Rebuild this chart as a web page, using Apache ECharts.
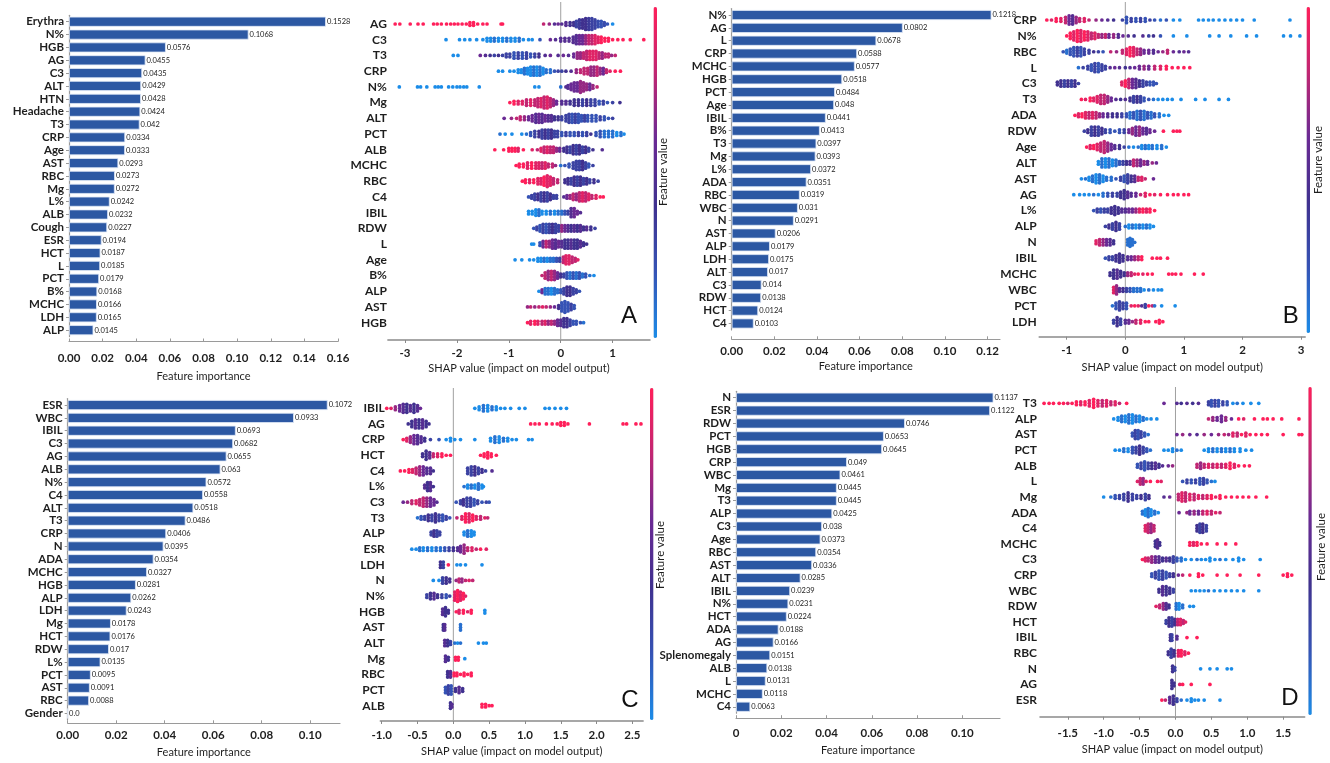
<!DOCTYPE html>
<html><head><meta charset="utf-8">
<script src="https://cdn.jsdelivr.net/npm/echarts@6/dist/echarts.min.js"></script>
<style>html,body{margin:0;padding:0;background:#fff}#c{width:1330px;height:763px}</style>
</head><body><div id="c"></div>
<script>
// ---------------- DATA ----------------
const barA_cats = ['Erythra','N%','HGB','AG','C3','ALT','HTN','Headache','T3','CRP','Age','AST','RBC','Mg','L%','ALB','Cough','ESR','HCT','L','PCT','B%','MCHC','LDH','ALP'];
const barA_vals = [0.1528,0.1068,0.0576,0.0455,0.0435,0.0429,0.0428,0.0424,0.042,0.0334,0.0333,0.0293,0.0273,0.0272,0.0242,0.0232,0.0227,0.0194,0.0187,0.0185,0.0179,0.0168,0.0166,0.0165,0.0145];
const barB_cats = ['N%','AG','L','CRP','MCHC','HGB','PCT','Age','IBIL','B%','T3','Mg','L%','ADA','RBC','WBC','N','AST','ALP','LDH','ALT','C3','RDW','HCT','C4'];
const barB_vals = [0.1218,0.0802,0.0678,0.0588,0.0577,0.0518,0.0484,0.048,0.0441,0.0413,0.0397,0.0393,0.0372,0.0351,0.0319,0.031,0.0291,0.0206,0.0179,0.0175,0.017,0.014,0.0138,0.0124,0.0103];
const barC_cats = ['ESR','WBC','IBIL','C3','AG','ALB','N%','C4','ALT','T3','CRP','N','ADA','MCHC','HGB','ALP','LDH','Mg','HCT','RDW','L%','PCT','AST','RBC','Gender'];
const barC_vals = [0.1072,0.0933,0.0693,0.0682,0.0655,0.063,0.0572,0.0558,0.0518,0.0486,0.0406,0.0395,0.0354,0.0327,0.0281,0.0262,0.0243,0.0178,0.0176,0.017,0.0135,0.0095,0.0091,0.0088,0];
const barD_cats = ['N','ESR','RDW','PCT','HGB','CRP','WBC','Mg','T3','ALP','C3','Age','RBC','AST','ALT','IBIL','N%','HCT','ADA','AG','Splenomegaly','ALB','L','MCHC','C4'];
const barD_vals = [0.1137,0.1122,0.0746,0.0653,0.0645,0.049,0.0461,0.0445,0.0445,0.0425,0.038,0.0373,0.0354,0.0336,0.0285,0.0239,0.0231,0.0224,0.0188,0.0166,0.0151,0.0138,0.0131,0.0118,0.0063];

const ticksBarA = [0,0.02,0.04,0.06,0.08,0.10,0.12,0.14,0.16];
const ticksBarB = [0,0.02,0.04,0.06,0.08,0.10,0.12];
const ticksBarC = [0,0.02,0.04,0.06,0.08,0.10];
const ticksBarD = [0,0.02,0.04,0.06,0.08,0.10];
const ticksShapA = [-3,-2,-1,0,1];
const ticksShapB = [-1,0,1,2,3];
const ticksShapC = [-1,-0.5,0,0.5,1,1.5,2,2.5];
const ticksShapD = [-1.5,-1,-0.5,0,0.5,1,1.5];

// SHAP rows: points as [shap value, number of samples stacked at that value, feature value 0(low)..1(high)]
const shapA_rows = ['AG','C3','T3','CRP','N%','Mg','ALT','PCT','ALB','MCHC','RBC','C4','IBIL','RDW','L','Age','B%','ALP','AST','HGB'];
const shapA_pts = [
[[-3.19,1,1],[-3.1,1,1],[-2.9,1,1],[-2.75,1,1],[-2.65,1,1],[-2.45,1,1],[-2.38,1,1],[-2.3,1,1],[-2.2,1,1],[-2.12,1,1],[-2.05,1,1],[-1.98,1,1],[-1.9,1,1],[-1.82,1,1],[-1.75,2,1],[-1.68,2,1],[-1.6,1,1],[-1.5,1,1],[-1.42,1,1],[-1.15,1,1],[-1.12,1,1],[-0.33,1,0.8],[-0.22,1,0.7],[-0.12,1,0.5],[-0.05,1,0.6],[0.02,1,0.5],[0.1,2,0.5],[0.18,2,0.4],[0.25,2,0.4],[0.3,3,0.3],[0.36,4,0.35],[0.42,4,0.4],[0.48,5,0.4],[0.54,5,0.35],[0.6,5,0.3],[0.66,4,0.3],[0.72,3,0.25],[0.78,3,0.2],[0.84,2,0.25],[0.9,1,0.2],[1.0,1,0]],
[[-2.21,1,0],[-1.95,1,0],[-1.85,1,0],[-1.75,1,0],[-1.62,1,0],[-1.5,1,0],[-1.42,2,0],[-1.35,2,0],[-1.28,2,0.1],[-1.2,2,0],[-1.12,2,0],[-1.04,2,0.1],[-0.96,2,0],[-0.88,2,0],[-0.8,2,0.1],[-0.72,1,0],[-0.62,1,0],[-0.55,1,0],[-0.4,1,0.2],[-0.2,1,0.6],[-0.1,1,0.5],[0,2,0.5],[0.08,2,0.5],[0.16,2,0.5],[0.24,3,0.5],[0.3,4,0.5],[0.36,4,0.6],[0.42,4,0.6],[0.48,4,0.7],[0.54,4,0.8],[0.6,4,0.8],[0.66,4,0.9],[0.72,3,0.9],[0.78,3,1],[0.85,2,1],[0.92,2,1],[1.0,1,1],[1.1,1,1],[1.2,1,1],[1.34,1,1],[1.6,1,1]],
[[-2.07,1,0],[-1.98,1,0],[-1.55,1,0.6],[-1.45,1,0.5],[-1.36,1,0.4],[-1.28,1,0.3],[-1.2,1,0.4],[-1.12,1,0.3],[-1.05,2,0.3],[-0.98,2,0.3],[-0.9,3,0.2],[-0.82,3,0.3],[-0.74,3,0.2],[-0.66,3,0.3],[-0.58,2,0.2],[-0.5,2,0.3],[-0.42,2,0.4],[-0.3,1,0.5],[-0.2,1,0.6],[-0.05,1,0.5],[0.05,1,0.6],[0.15,1,0.5],[0.25,2,0.6],[0.32,3,0.7],[0.38,3,0.7],[0.44,3,0.8],[0.5,4,0.8],[0.56,4,0.9],[0.62,4,0.9],[0.68,4,0.9],[0.74,3,0.8],[0.8,3,0.7],[0.86,2,0.8],[0.92,2,0.8],[0.98,1,0.7],[1.05,1,0.8]],
[[-1.2,1,0],[-1.12,1,0],[-0.98,1,0],[-0.9,1,0],[-0.82,2,0],[-0.76,2,0],[-0.7,3,0.1],[-0.64,3,0],[-0.58,4,0],[-0.52,4,0.1],[-0.46,4,0],[-0.4,4,0.1],[-0.34,3,0],[-0.28,2,0.1],[-0.2,2,0.1],[-0.12,1,0.2],[-0.05,1,0.3],[0.02,1,0.3],[0.1,1,0.4],[0.2,1,0.5],[0.3,2,0.7],[0.38,2,0.8],[0.45,3,0.8],[0.52,3,0.8],[0.58,4,0.7],[0.64,4,0.7],[0.7,4,0.8],[0.76,3,0.7],[0.82,3,0.6],[0.88,2,0.8],[0.95,1,0.9],[1.05,1,1],[1.15,1,1]],
[[-3.11,1,0],[-2.76,1,0],[-2.7,1,0],[-2.58,1,0],[-2.42,1,0],[-2.36,1,0],[-2.3,1,0],[-2.16,1,0],[-2.08,1,0],[-2.0,1,0],[-1.94,1,0],[-1.87,1,0],[-1.81,1,0],[-1.57,1,0],[-0.5,1,0],[-0.42,1,0],[0,1,0.1],[0.1,1,0.5],[0.14,2,0.5],[0.2,3,0.6],[0.26,4,0.6],[0.32,4,0.6],[0.38,5,0.7],[0.44,4,0.7],[0.5,3,0.7],[0.56,3,0.6],[0.62,2,0.7],[0.7,1,0.8]],
[[-0.98,1,1],[-0.9,2,1],[-0.82,2,0.9],[-0.74,2,0.9],[-0.66,3,0.8],[-0.58,3,0.9],[-0.5,3,0.8],[-0.44,4,0.8],[-0.38,4,0.9],[-0.32,5,0.8],[-0.26,5,0.9],[-0.2,4,0.8],[-0.14,3,0.7],[-0.08,2,0.6],[0.02,2,0.5],[0.1,2,0.5],[0.18,2,0.4],[0.26,3,0.4],[0.34,3,0.4],[0.42,3,0.3],[0.5,3,0.4],[0.58,3,0.3],[0.66,3,0.3],[0.74,2,0.2],[0.82,2,0.3],[0.9,1,0.2],[1.0,1,0.3],[1.14,1,0.4]],
[[-1.09,1,0.6],[-0.95,1,0.7],[-0.85,1,0.8],[-0.78,2,0.8],[-0.7,2,0.7],[-0.62,2,0.6],[-0.55,3,0.6],[-0.48,4,0.5],[-0.42,4,0.6],[-0.36,4,0.5],[-0.3,3,0.6],[-0.24,3,0.5],[-0.18,3,0.5],[-0.12,2,0.4],[-0.05,2,0.4],[0.02,2,0.3],[0.1,3,0.3],[0.16,4,0.3],[0.22,4,0.2],[0.28,4,0.3],[0.34,4,0.2],[0.4,3,0.2],[0.46,3,0.3],[0.52,3,0.2],[0.6,3,0.2],[0.68,3,0.2],[0.76,2,0.3],[0.84,2,0.2],[0.92,1,0.2],[1.0,1,0.3]],
[[-1.17,1,0.1],[-1.07,1,0],[-0.94,1,0],[-0.75,1,0],[-0.66,1,0.1],[-0.58,2,0.2],[-0.5,3,0.3],[-0.42,3,0.4],[-0.36,4,0.3],[-0.3,4,0.4],[-0.24,4,0.3],[-0.18,4,0.4],[-0.12,3,0.3],[-0.06,3,0.3],[0.02,2,0.2],[0.1,2,0.3],[0.18,2,0.2],[0.26,2,0.2],[0.34,2,0.3],[0.42,2,0.2],[0.5,2,0.3],[0.58,1,0.4],[0.68,2,0.2],[0.76,3,0.2],[0.84,3,0.1],[0.92,3,0.1],[1.0,3,0.1],[1.08,2,0],[1.16,2,0.1],[1.22,1,0]],
[[-1.27,1,1],[-1.1,1,1],[-1.0,2,1],[-0.94,2,1],[-0.88,2,1],[-0.82,2,0.9],[-0.72,1,1],[-0.55,1,0.9],[-0.45,1,0.8],[-0.38,2,0.9],[-0.32,3,0.8],[-0.26,3,0.9],[-0.2,3,0.8],[-0.14,3,0.8],[-0.08,2,0.7],[-0.02,2,0.6],[0.06,2,0.4],[0.12,3,0.4],[0.18,3,0.3],[0.24,4,0.4],[0.3,4,0.3],[0.36,4,0.4],[0.42,3,0.3],[0.48,3,0.4],[0.54,2,0.3],[0.62,1,0.4],[0.8,1,0.5]],
[[-0.86,1,1],[-0.8,2,1],[-0.72,2,1],[-0.64,3,0.9],[-0.56,3,1],[-0.48,3,0.9],[-0.42,3,0.9],[-0.36,3,0.8],[-0.3,3,0.9],[-0.24,2,0.8],[-0.16,2,0.8],[-0.1,1,0.7],[0.0,1,0.1],[0.08,1,0.2],[0.16,2,0.2],[0.24,3,0.3],[0.3,4,0.3],[0.36,4,0.3],[0.42,4,0.4],[0.48,3,0.3],[0.54,2,0.2],[0.62,1,0.3]],
[[-0.74,1,1],[-0.68,2,1],[-0.6,2,0.9],[-0.52,2,1],[-0.44,3,0.9],[-0.38,3,0.9],[-0.32,4,1],[-0.26,5,0.9],[-0.2,4,0.9],[-0.14,3,0.8],[-0.06,2,0.8],[0.08,2,0.4],[0.14,3,0.4],[0.2,3,0.3],[0.26,4,0.4],[0.32,4,0.3],[0.38,4,0.4],[0.44,3,0.3],[0.5,3,0.4],[0.56,2,0.3],[0.64,2,0.4],[0.72,1,0.3]],
[[-0.62,1,0.2],[-0.56,2,0.3],[-0.5,3,0.3],[-0.44,3,0.4],[-0.38,4,0.3],[-0.32,4,0.4],[-0.26,4,0.3],[-0.2,3,0.4],[-0.14,2,0.3],[-0.08,2,0.3],[0.06,1,0.5],[0.12,2,0.6],[0.18,2,0.7],[0.24,3,0.8],[0.3,3,0.7],[0.36,4,0.8],[0.42,4,0.9],[0.48,4,0.8],[0.54,3,0.9],[0.6,2,0.8],[0.68,2,0.9],[0.76,1,1],[0.82,1,1]],
[[-0.62,2,0],[-0.55,2,0],[-0.48,3,0],[-0.42,3,0.1],[-0.36,2,0],[-0.28,2,0],[-0.2,2,0.1],[-0.12,2,0],[-0.05,2,0.1],[0.02,2,0.1],[0.08,2,0.2],[0.14,2,0.3],[0.2,4,0.5],[0.26,4,0.6],[0.32,2,0.6],[0.38,1,0.5]],
[[-0.52,1,0.2],[-0.46,2,0.3],[-0.4,3,0.2],[-0.34,4,0.3],[-0.28,4,0.2],[-0.22,4,0.3],[-0.16,4,0.4],[-0.1,4,0.3],[-0.04,3,0.3],[0.02,3,0.7],[0.08,3,0.6],[0.14,3,0.5],[0.2,3,0.4],[0.26,3,0.5],[0.32,3,0.4],[0.38,3,0.5],[0.44,2,0.4],[0.5,2,0.5],[0.58,2,0.4],[0.66,1,0.3]],
[[-0.56,1,0],[-0.52,1,0],[-0.4,2,0.2],[-0.34,3,0.6],[-0.28,3,0.8],[-0.22,3,0.7],[-0.16,4,0.6],[-0.1,4,0.5],[-0.04,3,0.6],[0.02,3,0.5],[0.08,4,0.4],[0.14,4,0.4],[0.2,4,0.5],[0.26,4,0.4],[0.32,4,0.4],[0.38,3,0.5],[0.44,2,0.4],[0.5,1,0.4]],
[[-0.88,1,0],[-0.75,1,0],[-0.6,1,0],[-0.52,1,0],[-0.44,2,0],[-0.38,2,0],[-0.32,2,0.1],[-0.26,2,0],[-0.2,2,0.1],[-0.14,2,0.1],[-0.08,2,0.2],[-0.02,2,0.3],[0.05,3,0.8],[0.1,4,0.9],[0.16,4,0.9],[0.22,3,0.8],[0.28,2,0.8],[0.33,1,0.9]],
[[-0.36,1,0.8],[-0.3,3,0.8],[-0.24,4,0.7],[-0.18,4,0.8],[-0.12,4,0.7],[-0.06,3,0.6],[0.0,2,0.4],[0.06,2,0.3],[0.12,3,0.2],[0.18,3,0.1],[0.24,3,0.2],[0.3,3,0.1],[0.36,3,0.2],[0.42,2,0.1],[0.48,2,0.2],[0.56,1,0.1],[0.64,1,0]],
[[-0.42,1,0],[-0.36,2,0.6],[-0.3,3,0.1],[-0.24,3,0.1],[-0.18,3,0],[-0.12,3,0.1],[-0.06,2,0.1],[0.0,2,0.2],[0.06,3,0.3],[0.12,4,0.4],[0.18,4,0.4],[0.24,3,0.3],[0.3,2,0.3],[0.36,1,0.2]],
[[-0.64,1,0.7],[-0.58,1,0.8],[-0.5,1,0.7],[-0.42,1,0.8],[-0.35,1,0.9],[-0.28,1,0.8],[-0.2,1,0.7],[-0.12,1,0.6],[-0.04,2,0.4],[0.02,4,0.2],[0.08,5,0.2],[0.14,4,0.2],[0.2,3,0.3],[0.26,2,0.2]],
[[-0.64,1,1],[-0.58,2,0.9],[-0.5,2,1],[-0.44,2,0.9],[-0.36,2,0.8],[-0.3,2,0.9],[-0.24,2,0.7],[-0.18,2,0.8],[-0.12,2,0.7],[-0.06,3,0.6],[0.0,3,0.5],[0.06,4,0.4],[0.12,4,0.4],[0.18,3,0.3],[0.24,2,0.2],[0.3,2,0.2],[0.38,1,0.2],[0.44,1,0.1]]
];

const shapB_rows = ['CRP','N%','RBC','L','C3','T3','ADA','RDW','Age','ALT','AST','AG','L%','ALP','N','IBIL','MCHC','WBC','PCT','LDH'];
const shapB_pts = [
[[-1.34,1,1],[-1.26,1,0.9],[-1.18,2,1],[-1.1,2,0.9],[-1.02,3,0.8],[-0.96,4,0.6],[-0.9,4,0.5],[-0.84,3,0.7],[-0.78,2,0.8],[-0.7,2,0.9],[-0.62,1,0.8],[-0.5,1,0.7],[-0.4,1,0.6],[-0.3,1,0.5],[-0.2,1,0.4],[-0.05,1,0.3],[0.02,3,0.2],[0.1,2,0.3],[0.18,2,0.2],[0.26,2,0.3],[0.34,2,0.2],[0.42,1,0.3],[0.5,1,0.2],[0.6,1,0.1],[0.7,1,0.2],[0.82,1,0],[0.93,1,0],[1.25,1,0],[1.33,1,0],[1.42,1,0],[1.5,1,0],[1.6,1,0],[1.7,1,0],[1.8,1,0],[1.9,1,0],[2.0,1,0],[2.2,1,0],[2.81,1,0]],
[[-1.0,1,1],[-0.94,3,1],[-0.88,4,0.9],[-0.82,5,1],[-0.76,5,0.9],[-0.7,4,1],[-0.64,4,0.9],[-0.58,3,0.8],[-0.52,3,0.9],[-0.46,2,0.8],[-0.4,2,0.7],[-0.34,2,0.8],[-0.28,2,0.6],[-0.2,2,0.7],[-0.12,2,0.5],[-0.04,1,0.6],[0.05,1,0.5],[0.15,1,0.4],[0.3,1,0.5],[0.4,1,0.3],[0.48,1,0.4],[0.6,1,0.2],[0.82,1,0],[1.05,1,0],[1.44,1,0],[1.6,1,0],[1.8,1,0],[2.07,1,0],[2.24,1,0],[2.7,1,0],[2.82,1,0],[2.98,1,0]],
[[-1.06,1,0.2],[-1.0,2,0.1],[-0.94,3,0.2],[-0.88,4,0.2],[-0.82,4,0.3],[-0.76,4,0.2],[-0.7,3,0.3],[-0.62,2,0.3],[-0.54,1,0.4],[-0.46,1,0.3],[-0.38,1,0.2],[-0.25,1,0.8],[-0.15,1,0.7],[-0.05,2,0.8],[0.02,3,0.9],[0.08,4,1],[0.14,4,0.9],[0.2,3,0.8],[0.26,3,0.7],[0.32,2,0.6],[0.4,2,0.6],[0.48,2,0.5],[0.56,1,0.6],[0.64,1,0.7],[0.72,2,0.8],[0.82,1,0.6],[0.92,1,0.5],[1.0,1,0.6],[1.08,1,0.5]],
[[-0.8,1,0.1],[-0.72,1,0.3],[-0.64,2,0.3],[-0.58,3,0.2],[-0.52,4,0.3],[-0.46,4,0.2],[-0.4,3,0.3],[-0.34,2,0.3],[-0.26,1,0.5],[-0.18,1,0.6],[-0.1,1,0.5],[0.0,1,0.4],[0.08,1,0.5],[0.16,1,0.6],[0.24,2,0.6],[0.32,2,0.7],[0.4,2,0.6],[0.5,2,0.8],[0.6,2,0.9],[0.7,2,1],[0.8,1,1],[0.9,1,1],[1.0,1,1],[1.1,1,1]],
[[-1.16,2,0.4],[-1.1,3,0.4],[-1.04,3,0.3],[-0.98,3,0.4],[-0.92,3,0.3],[-0.86,3,0.4],[-0.8,1,0.3],[-0.06,2,0.9],[0.0,3,1],[0.06,4,0.8],[0.12,4,0.6],[0.18,4,0.5],[0.24,3,0.4],[0.3,3,0.3],[0.36,2,0.3],[0.42,2,0.2],[0.48,2,0.2],[0.53,1,0.2]],
[[-0.75,1,1],[-0.68,1,0.9],[-0.6,2,1],[-0.54,2,0.9],[-0.48,3,0.9],[-0.42,4,0.8],[-0.36,4,0.8],[-0.3,3,0.7],[-0.24,2,0.6],[-0.16,1,0.5],[-0.08,1,0.4],[0.0,1,0.5],[0.08,2,0.4],[0.14,3,0.3],[0.2,3,0.4],[0.26,3,0.3],[0.32,2,0.2],[0.4,1,0.2],[0.48,1,0.1],[0.56,1,0],[0.64,1,0],[0.72,1,0],[0.8,1,0],[0.95,1,0],[1.2,1,0],[1.36,1,0],[1.6,1,0],[1.76,1,0]],
[[-0.86,1,1],[-0.8,2,0.9],[-0.74,2,1],[-0.68,3,0.9],[-0.62,3,0.8],[-0.56,3,0.9],[-0.5,3,0.8],[-0.44,2,0.7],[-0.38,2,0.6],[-0.3,2,0.5],[-0.22,2,0.4],[-0.14,2,0.4],[-0.06,2,0.3],[0.02,2,0.2],[0.08,3,0.1],[0.14,3,0.2],[0.2,4,0.1],[0.26,4,0.2],[0.32,4,0.1],[0.38,3,0.2],[0.44,3,0.1],[0.5,2,0.2],[0.58,2,0.1],[0.66,1,0],[0.74,1,0]],
[[-0.7,1,0.3],[-0.64,2,0.4],[-0.58,4,0.3],[-0.52,4,0.4],[-0.46,4,0.3],[-0.4,3,0.4],[-0.34,2,0.3],[-0.26,2,0.2],[-0.18,1,0.2],[-0.1,2,0.2],[-0.02,2,0.3],[0.06,2,0.6],[0.12,3,0.7],[0.18,4,0.6],[0.24,4,0.7],[0.3,3,0.6],[0.36,3,0.5],[0.42,2,0.6],[0.5,1,0.6],[0.65,1,1],[0.82,1,1],[0.88,1,1],[0.93,1,1]],
[[-0.66,1,1],[-0.6,2,0.9],[-0.54,2,1],[-0.48,3,0.9],[-0.42,4,0.8],[-0.36,5,0.8],[-0.3,4,0.7],[-0.24,3,0.6],[-0.18,2,0.5],[-0.1,2,0.4],[-0.02,1,0.3],[0.06,1,0.1],[0.14,1,0],[0.22,1,0.1],[0.28,2,0],[0.34,2,0.1],[0.4,2,0],[0.46,2,0.1],[0.54,2,0],[0.62,2,0.1],[0.7,1,0]],
[[-0.46,2,0],[-0.4,4,0.1],[-0.34,4,0],[-0.28,4,0.1],[-0.22,3,0],[-0.16,3,0.1],[-0.1,2,0.2],[-0.04,2,0.3],[0.02,2,0.4],[0.08,2,0.5],[0.14,3,0.8],[0.2,3,0.7],[0.26,3,0.6],[0.32,2,0.7],[0.38,2,0.6],[0.46,1,0.7],[0.53,1,0.6]],
[[-0.75,1,0],[-0.68,1,0.1],[-0.62,2,0],[-0.56,3,0.1],[-0.5,4,0],[-0.44,4,0.1],[-0.38,3,0],[-0.32,2,0.1],[-0.24,2,0.1],[-0.16,1,0.2],[-0.08,2,0.3],[-0.02,3,0.2],[0.04,4,0.3],[0.1,3,0.4],[0.16,3,0.5],[0.22,2,0.8],[0.28,2,0.9],[0.34,1,0.8],[0.48,1,0.6]],
[[-0.88,1,0],[-0.78,1,0],[-0.7,1,0],[-0.62,1,0],[-0.54,1,0.1],[-0.46,1,0],[-0.38,2,0.1],[-0.3,2,0.2],[-0.22,2,0.3],[-0.14,2,0.3],[-0.08,3,0.4],[-0.02,4,0.4],[0.04,3,0.5],[0.1,2,0.5],[0.18,2,0.6],[0.26,1,0.8],[0.34,2,0.9],[0.42,1,1],[0.5,1,0.9],[0.6,1,1],[0.72,1,1],[0.82,1,1],[0.9,1,1],[1.0,1,1],[1.08,1,1]],
[[-0.54,1,0.2],[-0.48,2,0.3],[-0.42,2,0.2],[-0.36,2,0.3],[-0.3,2,0.3],[-0.24,3,0.4],[-0.18,4,0.4],[-0.12,3,0.4],[-0.06,2,0.5],[0.0,2,0.5],[0.06,2,0.6],[0.12,2,0.6],[0.18,2,0.7],[0.24,2,0.9],[0.3,2,1],[0.36,2,0.9],[0.42,2,1],[0.5,1,1]],
[[-0.34,1,0.3],[-0.28,2,0.4],[-0.22,3,0.3],[-0.16,4,0.4],[-0.1,3,0.3],[0.0,1,0.1],[0.06,2,0],[0.12,2,0.1],[0.18,2,0],[0.24,2,0.1],[0.3,2,0],[0.36,2,0.1],[0.42,2,0],[0.48,1,0]],
[[-0.5,2,0.9],[-0.44,3,0.8],[-0.38,3,0.7],[-0.32,3,0.6],[-0.26,3,0.5],[-0.2,2,0.4],[0.04,3,0.1],[0.08,4,0.1],[0.12,3,0.1],[0.16,1,0.1]],
[[-0.34,1,0.2],[-0.28,2,0.3],[-0.22,2,0.3],[-0.16,3,0.4],[-0.1,4,0.4],[-0.04,3,0.4],[0.04,2,0.5],[0.1,2,0.6],[0.16,2,0.7],[0.22,2,0.8],[0.28,2,1],[0.46,1,1],[0.54,1,1],[0.6,1,1],[0.72,1,1]],
[[-0.26,2,0.4],[-0.2,4,0.4],[-0.14,4,0.5],[-0.08,3,0.4],[-0.02,2,0.4],[0.04,2,0.7],[0.1,2,0.8],[0.16,1,0.9],[0.22,1,1],[0.3,1,0.9],[0.38,1,1],[0.46,1,1],[0.74,1,1],[0.8,1,1],[0.86,1,1],[0.95,1,1],[1.18,1,1],[1.33,1,1]],
[[-0.2,3,0.9],[-0.15,4,0.7],[-0.1,2,0.5],[-0.04,2,0.4],[0.02,2,0.3],[0.08,2,0.2],[0.14,2,0.1],[0.2,2,0.1],[0.26,2,0.1],[0.32,1,0],[0.4,1,0.1],[0.48,1,0],[0.56,1,0],[0.62,1,0]],
[[-0.22,1,0.1],[-0.16,3,0.2],[-0.1,4,0.3],[-0.04,3,0.3],[0.02,3,0.2],[0.1,1,0.9],[0.16,1,1],[0.22,1,0.9],[0.28,1,0.5],[0.34,2,0.3],[0.4,1,1],[0.46,1,0.8],[0.5,1,0.1],[0.62,1,0],[0.85,1,0]],
[[-0.2,2,0.3],[-0.14,4,0.4],[-0.08,3,0.3],[0.0,2,0.5],[0.06,2,0.6],[0.12,1,0.7],[0.18,2,0.8],[0.26,2,0.9],[0.34,1,1],[0.4,1,1],[0.52,1,1],[0.58,2,1],[0.64,1,1]]
];

const shapC_rows = ['IBIL','AG','CRP','HCT','C4','L%','C3','T3','ALP','ESR','LDH','N','N%','HGB','AST','ALT','Mg','RBC','PCT','ALB'];
const shapC_pts = [
[[-0.93,1,1],[-0.87,1,0.9],[-0.81,2,0.7],[-0.75,3,0.6],[-0.7,4,0.5],[-0.65,4,0.4],[-0.6,3,0.5],[-0.55,4,0.4],[-0.5,3,0.5],[-0.46,1,0.6],[0.3,1,0],[0.36,2,0],[0.42,3,0.1],[0.48,3,0],[0.54,2,0.1],[0.6,2,0],[0.66,1,0],[0.72,1,0],[0.8,1,0],[0.92,1,0],[1.0,1,0],[1.28,1,0],[1.34,1,0],[1.42,1,0],[1.5,1,0],[1.58,1,0]],
[[-0.63,1,0.4],[-0.58,3,0.4],[-0.53,4,0.5],[-0.48,4,0.4],[-0.43,4,0.5],[-0.38,3,0.4],[-0.34,1,0.4],[1.08,1,1],[1.14,1,1],[1.2,1,1],[1.3,1,1],[1.38,1,1],[1.45,1,1],[1.5,2,1],[1.55,2,1],[1.6,1,1],[1.9,1,1],[2.37,1,1],[2.42,1,1],[2.55,1,1],[2.62,1,1]],
[[-0.7,1,1],[-0.65,2,0.9],[-0.6,3,0.7],[-0.55,4,0.6],[-0.5,4,0.5],[-0.45,3,0.5],[-0.4,2,0.4],[-0.32,1,0.3],[-0.2,1,0.2],[-0.1,1,0],[-0.04,2,0],[0.02,1,0],[0.1,1,0],[0.3,1,0],[0.52,2,0],[0.58,3,0.1],[0.64,3,0],[0.7,2,0.1],[0.76,2,0],[0.82,1,0],[0.88,1,0],[1.05,1,0],[1.1,1,0]],
[[-0.43,2,0.4],[-0.38,4,0.4],[-0.33,3,0.5],[-0.28,2,0.8],[-0.22,2,0.9],[-0.16,2,1],[-0.1,1,1],[-0.04,1,1],[0.38,1,1],[0.43,2,1],[0.48,3,1],[0.53,2,1],[0.6,1,1]],
[[-0.74,1,1],[-0.68,1,1],[-0.62,2,1],[-0.57,2,0.9],[-0.52,3,0.8],[-0.47,4,0.7],[-0.42,4,0.6],[-0.37,3,0.5],[-0.32,3,0.5],[-0.28,1,0.4],[0.2,3,0.3],[0.25,4,0.3],[0.3,4,0.4],[0.35,3,0.3],[0.4,2,0.4],[0.45,1,0.3],[0.54,1,0.5]],
[[-0.4,2,0.5],[-0.36,4,0.4],[-0.32,4,0.5],[-0.28,1,0.4],[0.15,1,0.1],[0.2,2,0],[0.25,2,0.1],[0.3,2,0],[0.35,3,0.1],[0.4,2,0],[0.42,1,0]],
[[-0.7,1,0.6],[-0.64,1,0.7],[-0.58,2,0.8],[-0.52,2,0.9],[-0.47,3,0.8],[-0.42,4,0.8],[-0.37,4,0.7],[-0.32,4,0.6],[-0.27,3,0.6],[-0.23,1,0.5],[0.04,1,0.2],[0.1,2,0.3],[0.14,3,0.4],[0.19,4,0.3],[0.24,4,0.3],[0.29,3,0.2],[0.34,2,0.3],[0.4,1,0.2],[0.46,1,0.3],[0.5,1,0.2]],
[[-0.5,1,0.1],[-0.45,2,0.2],[-0.4,2,0.3],[-0.35,3,0.4],[-0.3,3,0.3],[-0.25,4,0.4],[-0.2,3,0.3],[-0.15,3,0.2],[-0.1,2,0.3],[-0.05,1,0.2],[0.05,1,0.8],[0.12,2,0.9],[0.17,4,1],[0.22,4,0.9],[0.27,3,1],[0.32,2,0.9],[0.38,2,0.8],[0.44,1,0.9],[0.48,1,0.8]],
[[-0.31,2,0.3],[-0.27,3,0.4],[-0.23,3,0.3],[-0.19,2,0.3],[0.15,2,0],[0.2,3,0.1],[0.25,3,0],[0.29,2,0]],
[[-0.58,1,0],[-0.52,1,0],[-0.47,2,0.1],[-0.42,2,0],[-0.36,2,0.1],[-0.3,2,0],[-0.24,2,0.1],[-0.18,2,0.1],[-0.12,2,0.2],[-0.06,2,0.3],[0.0,2,0.4],[0.06,2,0.5],[0.1,3,0.6],[0.15,4,0.7],[0.2,2,0.8],[0.26,2,0.9],[0.32,1,0.8],[0.38,1,1],[0.46,1,0.9]],
[[-0.18,3,0.4],[-0.14,3,0.3],[-0.07,1,1],[0.05,1,0],[0.1,1,0],[0.17,1,0],[0.4,1,0]],
[[-0.28,1,0],[-0.2,1,0],[-0.15,3,0.3],[-0.1,3,0.4],[-0.05,2,0.4],[0.04,1,0.7],[0.08,2,0.8],[0.12,2,0.7],[0.17,1,0.8],[0.22,1,0.9],[0.27,1,0.8]],
[[-0.37,2,0.3],[-0.32,3,0.4],[-0.27,3,0.5],[-0.22,2,0.4],[-0.16,2,0.3],[-0.1,2,0.2],[-0.05,1,0.3],[0.02,4,0.9],[0.06,5,1],[0.1,4,0.9],[0.14,3,1],[0.17,1,0.9]],
[[-0.15,3,0.5],[-0.11,4,0.4],[-0.07,2,0.4],[0.04,1,1],[0.08,2,0.9],[0.14,2,1],[0.2,1,0.9],[0.25,2,1],[0.44,2,0]],
[[-0.14,3,0.4],[-0.12,3,0.5],[0.1,3,0.1]],
[[-0.12,3,0.5],[-0.08,3,0.4],[-0.04,2,0.3],[0.02,1,0.1],[0.06,1,0],[0.1,1,0.1],[0.35,1,0],[0.42,1,0],[0.46,1,0]],
[[-0.11,3,0.5],[-0.07,2,0.4],[0.03,2,1],[0.07,2,1],[0.16,1,0]],
[[-0.08,3,0.4],[-0.04,3,0.5],[0.01,2,1],[0.05,2,1],[0.1,1,1],[0.15,2,1],[0.2,1,1],[0.25,2,1]],
[[-0.11,3,0.2],[-0.07,4,0.3],[-0.03,4,0.2],[0.03,2,0.4],[0.08,3,0.5],[0.13,2,0.4]],
[[-0.04,3,0.4],[-0.02,2,0.5],[0.4,2,1],[0.45,2,1],[0.5,1,1],[0.54,1,1]]
];

const shapD_rows = ['T3','ALP','AST','PCT','ALB','L','Mg','ADA','C4','MCHC','C3','CRP','WBC','RDW','HCT','IBIL','RBC','N','AG','ESR'];
const shapD_pts = [
[[-1.83,1,1],[-1.76,1,1],[-1.7,1,1],[-1.62,1,1],[-1.56,1,1],[-1.5,1,0.9],[-1.44,1,1],[-1.38,2,1],[-1.32,2,0.9],[-1.26,2,1],[-1.2,3,0.9],[-1.14,4,1],[-1.08,3,0.9],[-1.02,3,0.8],[-0.96,3,0.9],[-0.9,2,0.8],[-0.84,2,0.9],[-0.78,1,0.8],[-0.68,1,1],[-0.16,1,0.6],[0.02,1,0.5],[0.08,1,0.4],[0.16,1,0.5],[0.24,1,0.4],[0.32,1,0.5],[0.46,2,0.3],[0.5,3,0.2],[0.55,3,0.3],[0.6,3,0.2],[0.66,2,0.3],[0.72,2,0.2],[0.8,1,0],[0.86,1,0.1],[0.94,1,0],[1.05,1,0],[1.16,1,0]],
[[-0.86,1,0],[-0.8,2,0],[-0.75,3,0.1],[-0.7,3,0],[-0.65,4,0.1],[-0.6,4,0],[-0.55,3,0.1],[-0.5,3,0],[-0.45,2,0.1],[-0.4,1,0],[-0.34,1,0],[-0.26,1,0],[0.46,1,0.8],[0.52,2,0.7],[0.58,2,0.6],[0.64,3,0.6],[0.7,2,0.7],[0.78,1,0.6],[0.88,1,1],[0.95,1,0.9],[1.1,1,1],[1.22,1,1],[1.28,1,1],[1.36,1,1],[1.48,1,1],[1.72,1,1]],
[[-0.6,2,0.2],[-0.56,4,0.3],[-0.52,4,0.2],[-0.48,3,0.3],[-0.43,2,0.2],[-0.38,1,0.1],[0.02,1,0.6],[0.1,1,0.7],[0.2,1,0.6],[0.3,1,0.5],[0.4,1,0.7],[0.5,1,0.6],[0.6,1,0.7],[0.68,1,0.8],[0.74,1,0.7],[0.8,2,0.9],[0.86,2,0.8],[0.92,1,1],[0.98,2,0.9],[1.04,1,1],[1.12,1,1],[1.2,1,1],[1.28,1,1],[1.5,1,1],[1.72,1,1],[1.76,1,1]],
[[-0.84,1,0],[-0.78,1,0],[-0.72,2,0.1],[-0.66,2,0],[-0.6,3,0.2],[-0.55,3,0.3],[-0.5,4,0.4],[-0.45,3,0.3],[-0.4,2,0.2],[-0.35,1,0.1],[-0.16,1,0],[-0.1,1,0],[-0.04,2,0],[0.02,1,0.1],[0.08,1,0],[0.4,1,0],[0.46,2,0],[0.52,2,0.1],[0.58,2,0],[0.64,2,0.1],[0.7,2,0],[0.76,2,0.1],[0.82,2,0],[0.9,2,0],[0.98,1,0],[1.06,1,0]],
[[-0.53,2,0.2],[-0.48,3,0.3],[-0.43,4,0.2],[-0.38,3,0.3],[-0.33,3,0.4],[-0.28,3,0.5],[-0.23,2,0.4],[-0.18,1,0.5],[-0.1,1,0.6],[-0.04,1,0.7],[0.3,2,0.8],[0.35,3,0.7],[0.4,2,0.8],[0.46,2,0.9],[0.52,2,0.8],[0.58,2,0.9],[0.64,2,0.8],[0.7,2,0.9],[0.76,3,1],[0.82,2,0.9],[0.88,1,1],[0.96,1,1],[1.03,1,1]],
[[-0.53,1,0.9],[-0.49,3,0.8],[-0.45,3,0.7],[-0.41,1,0.9],[-0.35,1,1],[-0.25,1,1],[-0.2,1,0.9],[0.1,1,0.2],[0.16,2,0.3],[0.22,2,0.2],[0.28,2,0.3],[0.34,3,0.2],[0.39,3,0.3],[0.44,2,0.2],[0.5,1,0.1],[0.55,1,0]],
[[-1.0,1,0],[-0.9,1,0.1],[-0.84,2,0.2],[-0.78,2,0.3],[-0.72,3,0.3],[-0.66,4,0.4],[-0.6,3,0.3],[-0.54,2,0.3],[-0.48,2,0.4],[-0.42,3,0.3],[-0.37,2,0.4],[-0.16,1,0.5],[-0.08,1,0.6],[0.04,3,0.8],[0.09,4,0.9],[0.14,4,0.8],[0.2,3,0.9],[0.26,3,0.8],[0.32,2,0.9],[0.38,2,0.8],[0.44,2,0.9],[0.5,2,1],[0.56,1,0.9],[0.62,2,1],[0.7,1,1],[0.78,1,1],[0.86,1,1],[0.94,1,1],[1.02,1,1],[1.12,1,1],[1.27,1,1]],
[[-0.46,2,0.1],[-0.42,3,0],[-0.38,4,0.1],[-0.34,3,0],[-0.29,2,0.1],[-0.24,1,0],[0.05,1,0.6],[0.16,1,0.7],[0.2,2,0.6],[0.26,2,0.7],[0.32,2,0.6],[0.38,2,0.8],[0.44,2,0.9],[0.5,2,0.8],[0.56,1,0.9],[0.62,1,0.8]],
[[-0.42,3,0.9],[-0.38,4,0.8],[-0.34,4,0.7],[-0.3,3,0.8],[0.3,3,0.4],[0.34,4,0.3],[0.38,4,0.4],[0.43,3,0.3]],
[[-0.28,3,0.4],[-0.25,4,0.5],[-0.22,2,0.4],[0.2,2,1],[0.25,2,0.9],[0.3,2,1],[0.36,1,1],[0.44,1,1],[0.58,1,1],[0.7,1,1],[0.84,1,1]],
[[-0.46,1,1],[-0.42,2,0.9],[-0.38,2,0.8],[-0.33,3,0.7],[-0.28,3,0.6],[-0.23,3,0.5],[-0.18,2,0.4],[-0.13,2,0.5],[-0.08,2,0.4],[-0.03,3,0.3],[0.02,2,0.2],[0.08,2,0.1],[0.14,1,0],[0.22,1,0],[0.3,1,0.1],[0.36,1,0],[0.42,1,0],[0.48,2,0],[0.55,1,0],[0.62,1,0.1],[0.7,1,0],[0.8,1,0],[0.88,2,0],[0.95,1,0],[1.18,1,0]],
[[-0.33,2,0.2],[-0.28,3,0.3],[-0.23,4,0.2],[-0.18,4,0.3],[-0.13,3,0.2],[-0.08,2,0.3],[-0.03,2,0.4],[0.04,1,0.6],[0.1,1,0.8],[0.2,1,1],[0.32,2,1],[0.38,1,1],[0.58,1,1],[0.72,1,1],[0.9,1,1],[1.16,1,1],[1.5,1,1],[1.56,2,1],[1.62,1,1]],
[[-0.23,2,0.4],[-0.18,4,0.5],[-0.13,4,0.4],[-0.08,3,0.4],[-0.03,2,0.3],[0.22,1,0],[0.28,1,0],[0.34,1,0],[0.4,1,0],[0.46,1,0.1],[0.54,1,0],[0.62,1,0],[0.7,1,0],[0.78,1,0],[0.86,1,0],[0.95,1,0],[1.16,1,0]],
[[-0.27,1,0.9],[-0.22,2,0.8],[-0.17,3,0.7],[-0.13,3,0.5],[-0.09,2,0.4],[0.01,3,0.1],[0.05,3,0],[0.1,2,0.1],[0.2,1,0],[0.25,1,0]],
[[-0.13,2,0.3],[-0.09,4,0.4],[-0.05,4,0.3],[-0.01,3,0.4],[0.03,3,0.8],[0.07,3,0.9],[0.11,2,0.8],[0.14,1,0.9]],
[[-0.07,3,0.4],[-0.05,3,0.3],[0.02,2,0.5],[0.16,1,1],[0.3,1,1]],
[[-0.1,2,0.4],[-0.06,4,0.3],[-0.02,3,0.4],[0.04,3,0.9],[0.08,3,1],[0.13,2,0.9],[0.18,1,1]],
[[-0.04,3,0.4],[-0.01,2,0.3],[0.35,1,0],[0.48,1,0],[0.58,1,0],[0.72,1,0],[0.78,1,0]],
[[-0.05,4,0.4],[-0.02,2,0.4],[0.06,1,0.9],[0.1,1,1],[0.22,1,1],[0.48,1,1]],
[[-0.19,1,1],[-0.14,1,0.8],[-0.08,3,0.5],[-0.03,4,0.4],[0.02,2,0.3],[0.08,1,0.1],[0.16,1,0],[0.22,2,0],[0.27,1,0],[0.32,1,0],[0.4,1,0],[0.62,1,0]]
];

// ---------------- LAYOUT / STYLE ----------------
const FONT = 'Lato, "Open Sans", sans-serif';
const INK = '#1e1e1e';
const BAR_COLOR = '#2c58a3';
const SHAP_COLORS = ['#1b8ce8','#3553b5','#40318f','#6a2a94','#c12672','#ff1f5a'];

const barCfg = [
  {cats:barA_cats, vals:barA_vals, ticks:ticksBarA, left:69, width:269, max:0.16, top:15.3, height:321.3, off:4.9, lm:10.5, gap:29, zero:'0.00'},
  {cats:barB_cats, vals:barB_vals, ticks:ticksBarB, left:731.7, width:268.3, max:0.1258, top:8.6, height:321.3, off:9.4, lm:5.5, gap:22, zero:'0.00'},
  {cats:barC_cats, vals:barC_vals, ticks:ticksBarC, left:67.7, width:272.3, max:0.1123, top:398.6, height:321.3, off:3.4, lm:6, gap:24, zero:'0.00'},
  {cats:barD_cats, vals:barD_vals, ticks:ticksBarD, left:736, width:264, max:0.1166, top:391.3, height:321.9, off:5, lm:9.5, gap:27, zero:'0'}
];
const shapCfg = [
  {rows:shapA_rows, pts:shapA_pts, ticks:ticksShapA, dec:0, left:387.9, width:262.1, xmin:-3.33, xmax:1.72, rowTop:24, rowStep:15.72, gTop:2, axisY:340, lm:1, tlm:7, gap:23, vm:{left:653.5, top:7, h:331}, fv:{x:663, y:172}, letter:{t:'A', x:629, y:316}},
  {rows:shapB_rows, pts:shapB_pts, ticks:ticksShapB, dec:0, left:1039.2, width:266, xmin:-1.47, xmax:3.07, rowTop:20, rowStep:15.88, gTop:2, axisY:336.7, lm:2.5, tlm:7.5, gap:25, vm:{left:1306.5, top:7, h:326}, fv:{x:1318, y:160}, letter:{t:'B', x:1290.7, y:316}},
  {rows:shapC_rows, pts:shapC_pts, ticks:ticksShapC, dec:1, left:380.3, width:262.8, xmin:-1.02, xmax:2.65, rowTop:408.3, rowStep:15.65, gTop:388, axisY:721, lm:-4.5, tlm:8, gap:25, vm:{left:650, top:388, h:332}, fv:{x:660, y:555}, letter:{t:'C', x:630, y:700}},
  {rows:shapD_rows, pts:shapD_pts, ticks:ticksShapD, dec:1, left:1040, width:264.7, xmin:-1.887, xmax:1.80, rowTop:403.3, rowStep:15.62, gTop:387, axisY:716.7, lm:3, tlm:11, gap:27, vm:{left:1308.3, top:387, h:328}, fv:{x:1321.7, y:547}, letter:{t:'D', x:1290, y:698}}
];

// beeswarm stacking: n samples at the same value are stacked vertically around the row centre
function swarm(pts, rowStep) {
  const out = [];
  const s = 2.7 / rowStep;
  pts.forEach((row, r) => {
    row.forEach(([x, n, c]) => {
      for (let k = 0; k < n; k++) out.push([x, r + (k - (n - 1) / 2) * s, c]);
    });
  });
  return out;
}

const grid = [], xAxis = [], yAxis = [], series = [], visualMap = [], graphic = [];

barCfg.forEach((b) => {
  const gi = grid.length;
  grid.push({left:b.left, top:b.top, width:b.width, height:b.height, outerBoundsMode:'none', containLabel:false});
  xAxis.push({
    type:'value', gridIndex:gi, min:0, max:b.max, offset:b.off,
    splitLine:{show:false},
    axisLine:{show:true, onZero:false, lineStyle:{color:'#9a9a9a', width:1.2}},
    axisTick:{show:true, inside:true, length:3, customValues:b.ticks, lineStyle:{color:'#9a9a9a'}},
    axisLabel:{customValues:b.ticks, margin:b.lm, fontSize:11.5, fontWeight:'bold', color:INK, fontFamily:FONT,
      formatter:(v) => (Math.abs(v) < 1e-9 ? b.zero : v.toFixed(2))},
    name:'Feature importance', nameLocation:'middle', nameGap:b.gap,
    nameTextStyle:{fontSize:11, color:INK, fontFamily:FONT}
  });
  yAxis.push({
    type:'category', gridIndex:gi, data:b.cats, inverse:true,
    axisLine:{show:true, onZero:false, lineStyle:{color:'#9a9a9a', width:1.2}},
    axisTick:{show:true, length:3, alignWithLabel:true, lineStyle:{color:'#9a9a9a'}},
    axisLabel:{interval:0, margin:5, fontSize:11.5, fontWeight:'bold', color:INK, fontFamily:FONT},
    splitLine:{show:false}
  });
  series.push({
    type:'bar', xAxisIndex:gi, yAxisIndex:gi, data:b.vals, barCategoryGap:'22%',
    itemStyle:{color:BAR_COLOR, borderColor:'#dfe8f6', borderWidth:0.8},
    label:{show:true, position:'right', distance:1, fontSize:7.5, color:'#222', fontFamily:FONT,
      formatter:(p) => (p.value === 0 ? '0.0' : String(p.value))},
    silent:true
  });
});

shapCfg.forEach((s) => {
  const gi = grid.length;
  const ymin = (s.gTop - s.rowTop) / s.rowStep;
  const ymax = (s.axisY - s.rowTop) / s.rowStep;
  grid.push({left:s.left, top:s.gTop, width:s.width, height:s.axisY - s.gTop, outerBoundsMode:'none', containLabel:false});
  xAxis.push({
    type:'value', gridIndex:gi, min:s.xmin, max:s.xmax, position:'bottom',
    splitLine:{show:false},
    axisLine:{show:true, onZero:false, lineStyle:{color:'#8a8a8a', width:1.5}},
    axisTick:{show:true, length:3, customValues:s.ticks, lineStyle:{color:'#8a8a8a'}},
    axisLabel:{customValues:s.ticks, margin:s.tlm, fontSize:11.5, fontWeight:'bold', color:INK, fontFamily:FONT,
      formatter:(v) => v.toFixed(s.dec)},
    name:'SHAP value (impact on model output)', nameLocation:'middle', nameGap:s.gap,
    nameTextStyle:{fontSize:11, color:INK, fontFamily:FONT}
  });
  yAxis.push({
    type:'value', gridIndex:gi, min:ymin, max:ymax, inverse:true,
    axisLine:{show:false, onZero:false}, axisTick:{show:false}, splitLine:{show:false},
    axisLabel:{customValues:s.rows.map((_, i) => i), margin:s.lm, fontSize:12, fontWeight:'bold', color:INK, fontFamily:FONT,
      formatter:(v) => s.rows[Math.round(v)]}
  });
  // vertical reference line at SHAP value 0, spanning the plotting area
  series.push({
    type:'line', xAxisIndex:gi, yAxisIndex:gi, data:[[0, ymin], [0, ymax]], z:1, silent:true,
    showSymbol:false, symbol:'none', lineStyle:{color:'#a0a0a0', width:1}
  });
  const si = series.length;
  series.push({
    type:'scatter', xAxisIndex:gi, yAxisIndex:gi, z:3, silent:true,
    symbol:'circle', symbolSize:3.7, data:swarm(s.pts, s.rowStep),
    itemStyle:{opacity:1}
  });
  visualMap.push({
    type:'continuous', seriesIndex:si, dimension:2, min:0, max:1, calculable:false,
    left:s.vm.left, top:s.vm.top, itemWidth:3.5, itemHeight:s.vm.h, padding:0,
    text:null, hoverLink:false,
    inRange:{color:SHAP_COLORS}
  });
  graphic.push({
    type:'text', x:s.fv.x, y:s.fv.y, rotation:Math.PI / 2,
    style:{text:'Feature value', fontSize:11.5, fontFamily:FONT, fill:INK, align:'center', verticalAlign:'middle'}
  });
  graphic.push({
    type:'text', x:s.letter.x, y:s.letter.y,
    style:{text:s.letter.t, fontSize:24, fontFamily:'"Liberation Sans", Arial, sans-serif', fill:'#111', align:'center', verticalAlign:'middle'}
  });
});

const chart = echarts.init(document.getElementById('c'), null, {renderer:'canvas'});
chart.setOption({
  animation:false,
  backgroundColor:'#ffffff',
  textStyle:{fontFamily:FONT},
  grid, xAxis, yAxis, series, visualMap, graphic
});
</script>
</body></html>
